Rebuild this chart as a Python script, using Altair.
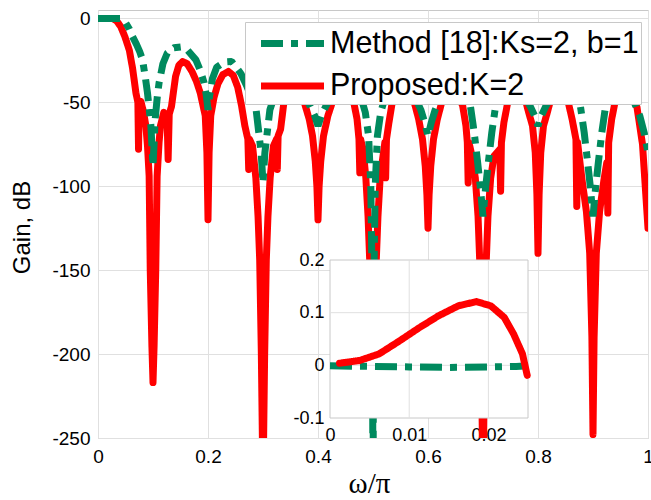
import altair as alt
import pandas as pd

# ---------------- data ----------------
SERIES = ["Method [18]:Ks=2, b=1", "Proposed:K=2"]
COLORS = ["#008a5e", "#ff0000"]
DASHES = [[22, 8, 7, 8], [1, 0]]

# Proposed:K=2 (red), main plot
R_X = [0.000, 0.015, 0.026, 0.034, 0.0415, 0.049, 0.057, 0.063, 0.069, 0.0725,
       0.0737, 0.0750, 0.078, 0.083, 0.087, 0.090, 0.093, 0.095, 0.098, 0.100,
       0.102, 0.105, 0.1075, 0.111, 0.1136, 0.1196, 0.1255, 0.1275, 0.1295, 0.1336,
       0.141, 0.147, 0.154, 0.162, 0.171, 0.179, 0.186, 0.195, 0.198, 0.200,
       0.202, 0.205, 0.211, 0.218, 0.227, 0.237, 0.246, 0.254, 0.261, 0.267,
       0.2725, 0.274, 0.2755, 0.281, 0.287, 0.291, 0.294, 0.297, 0.300, 0.303,
       0.306, 0.309, 0.313, 0.319, 0.3245, 0.326, 0.3275, 0.332, 0.338, 0.345,
       0.355, 0.365, 0.375, 0.384, 0.390, 0.395, 0.398, 0.400, 0.402, 0.405,
       0.410, 0.418, 0.426, 0.435, 0.445, 0.455, 0.465, 0.471, 0.4745, 0.476,
       0.4775, 0.482, 0.487, 0.491, 0.494, 0.497, 0.500, 0.503, 0.506, 0.509,
       0.513, 0.519, 0.5215, 0.523, 0.5245, 0.529, 0.535, 0.545, 0.555, 0.565,
       0.575, 0.583, 0.590, 0.595, 0.598, 0.600, 0.602, 0.605, 0.610, 0.617,
       0.625, 0.635, 0.645, 0.655, 0.663, 0.669, 0.6715, 0.673, 0.6745, 0.680,
       0.686, 0.691, 0.694, 0.697, 0.700, 0.703, 0.706, 0.709, 0.714, 0.720,
       0.7305, 0.732, 0.7335, 0.738, 0.745, 0.755, 0.765, 0.775, 0.783, 0.790,
       0.795, 0.798, 0.800, 0.802, 0.805, 0.810, 0.817, 0.825, 0.835, 0.845,
       0.855, 0.862, 0.869, 0.8705, 0.872, 0.880, 0.888, 0.894, 0.898, 0.900,
       0.902, 0.906, 0.912, 0.920, 0.925, 0.927, 0.9285, 0.934, 0.940, 0.950,
       0.960, 0.970, 0.980, 0.990, 0.997, 1.000]
R_Y = [0, 0, 0, -1.5, -5, -11, -19, -30, -44.5, -50,
       -78, -49.5, -49.5, -56, -64, -76, -94, -150, -195, -217,
       -195, -150, -94, -74, -64, -56, -58, -84, -57, -52.5,
       -34.6, -28, -25.7, -27, -31.7, -37.5, -44.5, -58, -80, -120,
       -80, -58, -47, -39, -33.5, -31.6, -34, -41, -52, -64,
       -72, -90, -72, -76, -95, -118, -144, -200, -280, -200,
       -144, -118, -95, -76, -72, -90, -70, -66, -50, -45,
       -44, -46, -50, -60, -70, -85, -100, -120, -100, -85,
       -70, -58, -50, -46, -44, -46, -50, -60, -72, -92,
       -72, -78, -95, -118, -144, -175, -200, -175, -144, -118,
       -95, -80, -74, -95, -72, -62, -50, -45, -44, -46,
       -50, -60, -72, -88, -105, -125, -105, -88, -72, -60,
       -50, -46, -44, -46, -52, -64, -74, -98, -74, -82,
       -95, -118, -144, -200, -280, -200, -144, -118, -95, -82,
       -78, -103, -74, -62, -50, -45, -44, -46, -56, -64,
       -80, -105, -140, -105, -80, -64, -56, -46, -44, -45,
       -50, -60, -72, -112, -74, -96, -115, -140, -190, -248,
       -190, -140, -115, -96, -86, -116, -74, -60, -50, -45,
       -44, -46, -53, -75, -110, -125]

# Method [18]:Ks=2, b=1 (green), main plot
G_X = [0.000, 0.020, 0.042, 0.050, 0.0565, 0.0627, 0.070, 0.076, 0.081, 0.086,
       0.090, 0.096, 0.100, 0.104, 0.108, 0.111, 0.118, 0.126, 0.138, 0.1505,
       0.163, 0.178, 0.186, 0.193, 0.197, 0.200, 0.203, 0.208, 0.216, 0.230,
       0.243, 0.251, 0.260, 0.270, 0.280, 0.2875, 0.2966, 0.300, 0.3034, 0.3125,
       0.320, 0.333, 0.348, 0.363, 0.375, 0.386, 0.394, 0.400, 0.406, 0.414,
       0.425, 0.437, 0.452, 0.467, 0.478, 0.486, 0.492, 0.496, 0.499, 0.500,
       0.501, 0.504, 0.508, 0.514, 0.522, 0.533, 0.548, 0.563, 0.575, 0.587,
       0.594, 0.600, 0.606, 0.613, 0.625, 0.637, 0.652, 0.667, 0.677, 0.684,
       0.690, 0.695, 0.700, 0.705, 0.710, 0.716, 0.723, 0.733, 0.748, 0.763,
       0.775, 0.786, 0.794, 0.800, 0.806, 0.814, 0.825, 0.837, 0.852, 0.867,
       0.877, 0.884, 0.890, 0.895, 0.900, 0.905, 0.910, 0.916, 0.923, 0.933,
       0.948, 0.962, 0.975, 0.985, 0.993, 1.000]
G_Y = [0, 0, 0, -2.5, -6, -10.8, -15.5, -20, -24.7, -35,
       -44.5, -63, -88, -60, -46, -38.5, -27, -20.6, -17.5, -17,
       -19, -24.7, -31, -38.5, -46, -54.5, -46, -36, -29, -26,
       -25.7, -29, -33, -40, -48, -54.5, -80, -98, -80, -54.5,
       -47, -40, -37, -40, -46, -52.5, -58, -64, -58, -52.5,
       -46, -40, -37, -40, -47, -56, -70, -100, -170, -300,
       -170, -100, -70, -56, -47, -40, -37, -40, -46, -54.5,
       -62, -70, -62, -54.5, -46, -40, -37, -40, -52, -68,
       -85, -100, -118, -100, -85, -68, -52, -45, -38, -40,
       -46, -52.5, -58, -64, -58, -52.5, -46, -40, -37, -40,
       -52, -68, -85, -100, -118, -100, -85, -68, -52, -45,
       -39, -42, -50, -58, -68, -80]

# inset (passband detail)
IN_R_X = [0.0012, 0.0037, 0.0062, 0.0087, 0.0112, 0.0137, 0.0162, 0.0185, 0.0203,
          0.0220, 0.0232, 0.0243, 0.0249]
IN_R_Y = [0.004, 0.009, 0.0217, 0.0456, 0.0707, 0.094, 0.113, 0.121, 0.113,
          0.091, 0.059, 0.0217, -0.019]
IN_G_X = [0.0, 0.005, 0.010, 0.015, 0.020, 0.0235, 0.025]
IN_G_Y = [-0.001, -0.002, -0.003, -0.004, -0.003, -0.002, -0.001]

X_DOMAIN = [0, 1]
Y_DOMAIN = [-250, 5]
X_TICKS = [0, 0.2, 0.4, 0.6, 0.8, 1]
Y_TICKS = [-250, -200, -150, -100, -50, 0]
IN_X_DOMAIN = [0, 0.025]
IN_Y_DOMAIN = [-0.1, 0.2]
IN_X_TICKS = [0, 0.01, 0.02]
IN_Y_TICKS = [-0.1, 0, 0.1, 0.2]

# ---------------- layout / style ----------------
W, H = 550, 428
IN_LEFT, IN_RIGHT, IN_TOP, IN_BOTTOM = 232, 430, 250, 408
FONT = "Liberation Sans"
GRID = "#e0e0e0"
FRAME = "#c8c8c8"

red_df = pd.DataFrame({"x": R_X, "y": R_Y, "series": SERIES[1]})
green_df = pd.DataFrame({"x": G_X, "y": G_Y, "series": SERIES[0]})
in_red_df = pd.DataFrame({"x": IN_R_X, "y": IN_R_Y, "series": SERIES[1]})
in_green_df = pd.DataFrame({"x": IN_G_X, "y": IN_G_Y, "series": SERIES[0]})

color_scale = alt.Scale(domain=SERIES, range=COLORS)
dash_scale = alt.Scale(domain=SERIES, range=DASHES)

# legend symbol: custom horizontal stroke, 63 px long but only ~31 px "tall" in layout
legend = alt.Legend(
    title=None, orient="none", legendX=147, legendY=12, direction="vertical",
    labelFont=FONT, labelFontSize=30.5, labelColor="black", labelLimit=600,
    symbolType="M-2,0H2", symbolSize=992, symbolStrokeWidth=7,
    symbolOffset=26, labelOffset=18,
    fillColor="white", strokeColor=FRAME, padding=2, rowPadding=7.5,
    zindex=1,
)

mx_scale = alt.Scale(domain=X_DOMAIN, nice=False, zero=False)
my_scale = alt.Scale(domain=Y_DOMAIN, nice=False, zero=False)

x_axis = alt.Axis(
    values=X_TICKS, labelExpr="'' + datum.value", title="ω/π",
    titleFont="Liberation Serif", titleFontSize=29, titleFontWeight="normal",
    titleColor="black", titleX=271, titleY=54, titleBaseline="alphabetic",
    titleAlign="center",
    labelFont=FONT, labelFontSize=19, labelColor="black", labelPadding=9,
    labelFlush=False, labelOverlap=False, ticks=False, domain=False,
    grid=True, gridColor=GRID, gridWidth=1,
)
y_axis = alt.Axis(
    values=Y_TICKS, labelExpr="'' + datum.value", title="Gain, dB",
    titleFont=FONT, titleFontSize=24, titleFontWeight="normal",
    titleColor="black", titleX=-76, titleY=217, titleBaseline="middle",
    titleAlign="center", titleAngle=270,
    labelFont=FONT, labelFontSize=19, labelColor="black", labelPadding=8,
    labelFlush=False, labelOverlap=False, ticks=False, domain=False,
    grid=True, gridColor=GRID, gridWidth=1,
)

color_enc = alt.Color("series:N", scale=color_scale, legend=legend)
dash_enc = alt.StrokeDash("series:N", scale=dash_scale, legend=legend)

red_line = alt.Chart(red_df).mark_line(
    strokeWidth=7, clip=True, strokeCap="round", strokeJoin="round"
).encode(
    x=alt.X("x:Q", scale=mx_scale, axis=x_axis),
    y=alt.Y("y:Q", scale=my_scale, axis=y_axis),
    color=color_enc, strokeDash=dash_enc, order="x:Q",
)

green_line = alt.Chart(green_df).mark_line(
    strokeWidth=7, clip=True, strokeJoin="bevel"
).encode(
    x=alt.X("x:Q", scale=mx_scale, axis=None),
    y=alt.Y("y:Q", scale=my_scale, axis=None),
    color=color_enc, strokeDash=dash_enc, order="x:Q",
)

# ---------------- inset ----------------
ix_scale = alt.Scale(domain=IN_X_DOMAIN, range=[IN_LEFT, IN_RIGHT], nice=False, zero=False)
iy_scale = alt.Scale(domain=IN_Y_DOMAIN, range=[IN_BOTTOM, IN_TOP], nice=False, zero=False)

ix_axis = alt.Axis(
    orient="bottom", offset=-(H - IN_BOTTOM), values=IN_X_TICKS,
    labelExpr="'' + datum.value", title=None, labelFont=FONT, labelFontSize=18,
    labelColor="black", labelPadding=8, labelFlush=False, labelOverlap=False,
    ticks=False, domain=False, grid=False,
)
iy_axis = alt.Axis(
    orient="left", offset=-IN_LEFT, values=IN_Y_TICKS,
    labelExpr="'' + datum.value", title=None, labelFont=FONT, labelFontSize=18,
    labelColor="black", labelPadding=6, labelFlush=False, labelOverlap=False,
    ticks=False, domain=False, grid=False,
)

frame_df = pd.DataFrame({
    "x0": [IN_X_DOMAIN[0]], "x1": [IN_X_DOMAIN[1]],
    "y0": [IN_Y_DOMAIN[0]], "y1": [IN_Y_DOMAIN[1]],
})
frame = alt.Chart(frame_df).mark_rect(
    fill="white", stroke=FRAME, strokeWidth=1
).encode(
    x=alt.X("x0:Q", scale=ix_scale, axis=ix_axis), x2="x1",
    y=alt.Y("y0:Q", scale=iy_scale, axis=iy_axis), y2="y1",
)

vgrid_df = pd.DataFrame({"t": IN_X_TICKS[1:], "y0": IN_Y_DOMAIN[0], "y1": IN_Y_DOMAIN[1]})
vgrid = alt.Chart(vgrid_df).mark_rule(color=GRID, strokeWidth=1).encode(
    x=alt.X("t:Q", scale=ix_scale, axis=None),
    y=alt.Y("y0:Q", scale=iy_scale, axis=None), y2="y1",
)
hgrid_df = pd.DataFrame({"t": IN_Y_TICKS[1:-1], "x0": IN_X_DOMAIN[0], "x1": IN_X_DOMAIN[1]})
hgrid = alt.Chart(hgrid_df).mark_rule(color=GRID, strokeWidth=1).encode(
    y=alt.Y("t:Q", scale=iy_scale, axis=None),
    x=alt.X("x0:Q", scale=ix_scale, axis=None), x2="x1",
)

in_color = alt.Color("series:N", scale=color_scale, legend=None)
in_dash = alt.StrokeDash("series:N", scale=dash_scale, legend=None)

in_green = alt.Chart(in_green_df).mark_line(strokeWidth=7).encode(
    x=alt.X("x:Q", scale=ix_scale, axis=None),
    y=alt.Y("y:Q", scale=iy_scale, axis=None),
    color=in_color, strokeDash=in_dash, order="x:Q",
)
in_red = alt.Chart(in_red_df).mark_line(
    strokeWidth=7, strokeCap="round", strokeJoin="round"
).encode(
    x=alt.X("x:Q", scale=ix_scale, axis=None),
    y=alt.Y("y:Q", scale=iy_scale, axis=None),
    color=in_color, strokeDash=in_dash, order="x:Q",
)

chart = (
    alt.layer(red_line, green_line, frame, vgrid, hgrid, in_green, in_red)
    .resolve_scale(x="independent", y="independent")
    .properties(
        width=W, height=H,
        autosize=alt.AutoSizeParams(type="none"),
        padding={"left": 98, "top": 10, "right": 3, "bottom": 62},
        background="white",
    )
    .configure_view(stroke=FRAME, strokeWidth=1)
)

chart.save("out.html", embed_options={"renderer": "svg", "actions": False})
